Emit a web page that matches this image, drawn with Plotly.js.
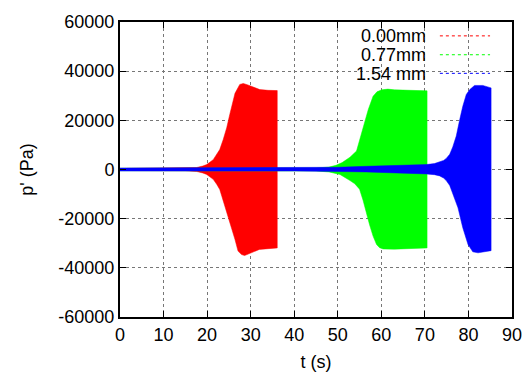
<!DOCTYPE html>
<html>
<head>
<meta charset="utf-8">
<script src="https://cdn.plot.ly/plotly-3.0.1.min.js"></script>
<style>html,body{margin:0;padding:0;background:#fff;}#chart{width:525px;height:374px;}</style>
</head>
<body>
<div id="chart"></div>
<script>
// Series labels
var seriesNames = ["0.00mm", "0.77mm", "1.54 mm"];
var seriesColors = ["#ff0000", "#00ff00", "#0000ff"];

// Envelope of the oscillating pressure signal p' (Pa) vs time t (s)
// 0.00mm
var redTimeUpper = [0, 15, 17.6, 19, 19.9, 21.4, 22.2, 22.9, 23.7, 24.5, 25.2, 26, 26.4, 27.5, 28.3, 29.2, 30.2, 32.1, 34, 36.1];
var redUpper     = [400, 500, 800, 1400, 2000, 4000, 6000, 8100, 12200, 17000, 22400, 27500, 31000, 34600, 35000, 34500, 33900, 32500, 32200, 32100];
var redTimeLower = [0, 15, 17.6, 19, 19.9, 21.4, 22.2, 22.9, 23.7, 25.2, 26.4, 27.1, 27.9, 28.6, 30, 32, 34, 36.1];
var redLower     = [-400, -500, -800, -1400, -2000, -4000, -6000, -8100, -12200, -21700, -28500, -33200, -34600, -35000, -34000, -32500, -32100, -31900];

// 0.77mm
var greenTimeUpper = [0, 45, 48, 49.6, 51, 52.8, 54.3, 55.4, 56.2, 57, 58.1, 59, 60.1, 61.5, 63, 66, 70.5];
var greenUpper     = [500, 600, 1000, 1700, 2800, 5000, 7500, 14000, 19500, 24400, 29800, 31600, 32400, 32700, 32400, 32200, 32000];
var greenTimeLower = [0, 45, 48, 50.5, 52.8, 53.9, 55, 55.8, 56.6, 57.3, 58.1, 58.9, 59.6, 60.4, 63, 66, 70.5];
var greenLower     = [-500, -600, -1000, -2000, -4500, -5800, -8000, -12500, -17600, -22500, -27100, -30500, -31800, -32300, -32400, -32300, -31900];

// 1.54 mm
var blueTimeUpper = [0, 40, 50, 56.6, 64.2, 70.3, 72.2, 73.4, 74.3, 74.9, 75.7, 76.4, 77.2, 78, 78.7, 79.5, 80.3, 81.4, 83.3, 85.2];
var blueUpper     = [600, 600, 900, 1300, 1600, 2000, 2400, 3000, 3700, 4500, 6200, 9200, 13600, 20300, 25700, 30500, 32500, 34200, 34200, 33200];
var blueTimeLower = [0, 40, 50, 56.6, 64.2, 70.3, 72.2, 73.4, 74.3, 74.9, 75.7, 76.4, 77.6, 78.7, 79.9, 81, 82.2, 85.2];
var blueLower     = [-600, -600, -800, -1000, -1400, -1800, -2100, -2600, -3500, -4500, -6500, -9500, -15600, -23700, -30500, -33500, -33900, -33000];

// Axis ticks
var xTickValues = [0, 10, 20, 30, 40, 50, 60, 70, 80, 90];
var yTickValues = [-60000, -40000, -20000, 0, 20000, 40000, 60000];

function envelope(tu, pu, tl, pl, name, color) {
  var xs = tu.concat(tl.slice().reverse());
  var ys = pu.concat(pl.slice().reverse());
  return {
    x: xs, y: ys, name: name, type: 'scatter', mode: 'lines',
    fill: 'toself', fillcolor: color,
    line: {color: color, width: 0.5},
    hoverinfo: 'skip', showlegend: false
  };
}

var data = [
  envelope(redTimeUpper, redUpper, redTimeLower, redLower, seriesNames[0], seriesColors[0]),
  envelope(greenTimeUpper, greenUpper, greenTimeLower, greenLower, seriesNames[1], seriesColors[1]),
  envelope(blueTimeUpper, blueUpper, blueTimeLower, blueLower, seriesNames[2], seriesColors[2])
];

var font = {family: 'Liberation Sans, Arial, sans-serif', size: 18, color: '#000'};

// Legend built from annotations + short dotted sample lines (gnuplot style, text right-aligned)
var legendY = [0.953, 0.889, 0.826];
var annotations = [];
var shapes = [];
for (var i = 0; i < seriesNames.length; i++) {
  annotations.push({
    xref: 'paper', yref: 'paper', x: 0.783, y: legendY[i],
    xanchor: 'right', yanchor: 'middle', showarrow: false,
    height: 17, borderpad: 0,
    text: seriesNames[i], font: font
  });
  shapes.push({
    type: 'line', xref: 'paper', yref: 'paper',
    x0: 0.816, x1: 0.944, y0: legendY[i], y1: legendY[i],
    line: {color: seriesColors[i], width: 1, dash: 'dot'}
  });
}

var axisCommon = {
  showline: true, linecolor: '#000', linewidth: 2, mirror: 'ticks',
  ticks: 'inside', ticklen: 6, tickwidth: 1, tickcolor: '#000',
  showgrid: true, gridcolor: '#777', griddash: 'dot', gridwidth: 1,
  zeroline: false, tickfont: font
};

var layout = {
  width: 525, height: 374,
  margin: {l: 120, r: 13, t: 22, b: 57},
  paper_bgcolor: '#fff', plot_bgcolor: '#fff',
  font: font,
  showlegend: false,
  xaxis: Object.assign({}, axisCommon, {
    range: [0, 90], tickvals: xTickValues, ticktext: xTickValues.map(String),
    title: {text: 't (s)', font: font, standoff: 12}
  }),
  yaxis: Object.assign({}, axisCommon, {
    range: [-60000, 60000], tickvals: yTickValues, ticktext: yTickValues.map(String),
    title: {text: "p' (Pa)", font: font, standoff: 20}
  }),
  annotations: annotations,
  shapes: shapes
};

Plotly.newPlot('chart', data, layout, {staticPlot: true, displayModeBar: false});
</script>
</body>
</html>
